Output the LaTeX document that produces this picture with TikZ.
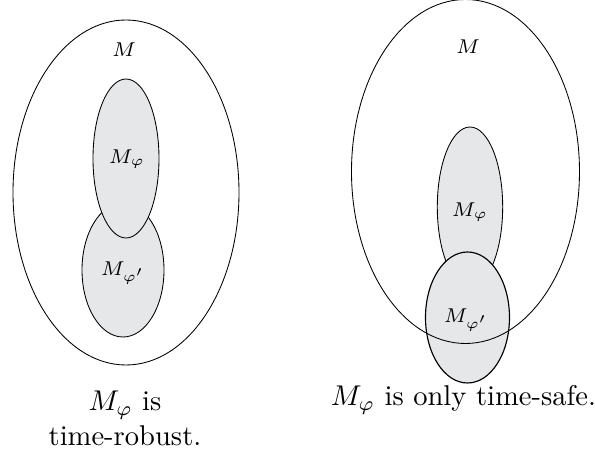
\documentclass[tikz,border=0pt]{standalone}
\usepackage{xcolor}
\usepackage{amsmath}
\usepackage{tikz}

\definecolor{setgray}{RGB}{230,231,233}

\begin{document}
\begin{tikzpicture}[x=0.35pt, y=0.35pt,
    subset/.style={draw, fill=setgray, line width=0.3pt},
    setlabel/.style={inner sep=0pt, font=\scriptsize},
    caption/.style={align=center, font=\normalsize}]
    \useasboundingbox (0, 0) rectangle (595, 454);

    % Left: time-robust
    \draw[subset] (123, 184) ellipse (41 and 67);
    \draw[subset] (126, 295.5) ellipse (33 and 79.5);
    \draw[line width=0.3pt] (126, 261.5) ellipse (113 and 172.5);
    \node[setlabel] (lM) at (124, 404) {$M$};
    \node[setlabel] (lphi) at (127, 295) {$M_\varphi$};
    \node[setlabel] (lphip) at (123, 181) {$M_{\varphi'}$};
    \node[caption] (lcap) at (125, 35.5) {$M_\varphi$ is\\time-robust.};

    % Right: only time-safe
    \draw[subset] (470, 247) ellipse (32.7 and 80);
    \draw[subset, line width=0.4pt] (467.5, 136.5) ellipse (42 and 65.5);
    \draw[line width=0.3pt] (465.5, 282.5) ellipse (114 and 172);
    \node[setlabel] (rM) at (468, 407) {$M$};
    \node[setlabel] (rphi) at (470, 242) {$M_\varphi$};
    \node[setlabel] (rphip) at (466, 134) {$M_{\varphi'}$};
    \node[caption] (rcap) at (463.5, 54) {$M_\varphi$ is only time-safe.};
\end{tikzpicture}
\end{document}
